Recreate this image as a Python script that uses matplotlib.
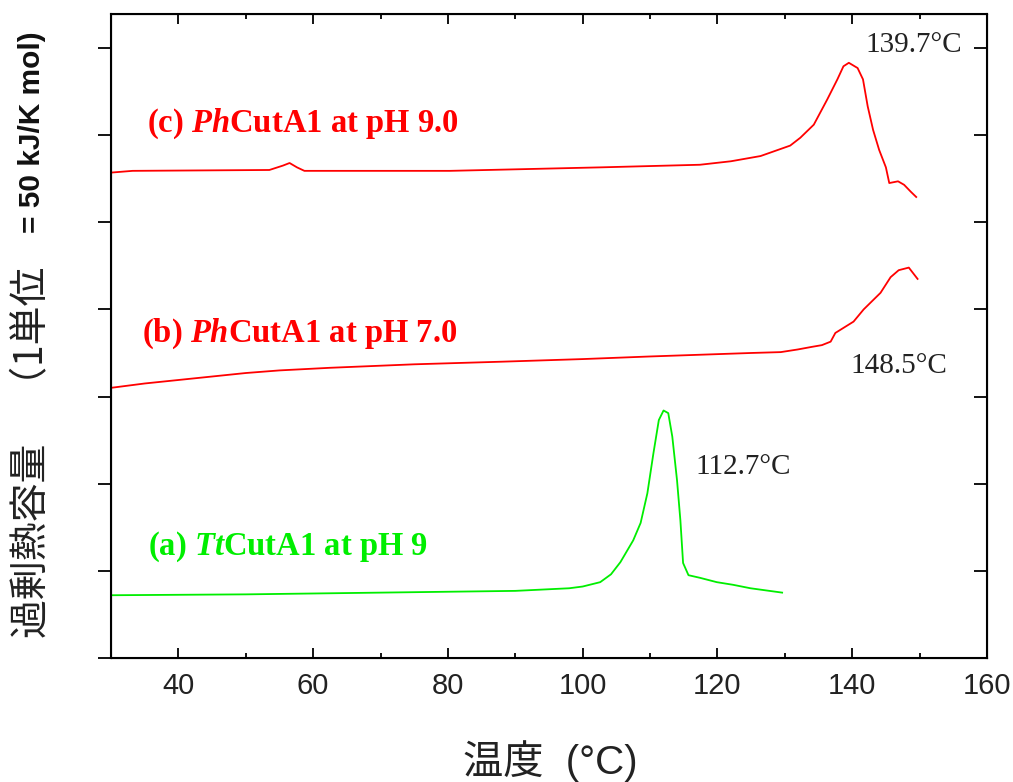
import matplotlib
matplotlib.use("Agg")
import matplotlib.pyplot as plt
from matplotlib.ticker import MultipleLocator

# (a) TtCutA1 pH 9 (green)
temp_a = [30, 50, 70, 90, 98, 100, 102.6, 104.2, 105.6, 107.5, 108.6, 109.6, 110.5, 111.3,
          112.0, 112.7, 113.3, 114.0, 114.5, 114.9, 115.7, 117.4, 119.9, 122.3, 124.9, 129.6]
cp_a = [0.72, 0.73, 0.75, 0.77, 0.80, 0.82, 0.87, 0.96, 1.10, 1.35, 1.55, 1.89, 2.35, 2.73,
        2.84, 2.81, 2.54, 2.04, 1.58, 1.09, 0.95, 0.92, 0.87, 0.84, 0.80, 0.75]

# (b) PhCutA1 pH 7.0 (red)
temp_b = [30, 35, 40, 45, 50, 55, 62.5, 75, 88, 100, 110, 117.5, 125, 129.4, 131.9, 134,
          135.5, 136.8, 137.5, 140.2, 141.7, 144.2, 145.7, 146.9, 148.4, 149.0, 149.7]
cp_b = [3.10, 3.15, 3.19, 3.23, 3.27, 3.30, 3.33, 3.37, 3.40, 3.43, 3.46, 3.48, 3.50, 3.51,
        3.54, 3.57, 3.59, 3.63, 3.73, 3.86, 4.00, 4.19, 4.37, 4.45, 4.48, 4.42, 4.35]

# (c) PhCutA1 pH 9.0 (red)
temp_c = [30, 33.2, 53.5, 55.5, 56.5, 57.6, 58.7, 80.3, 102.6, 117.4, 122, 126.4, 130.8,
          132.3, 134.3, 136.3, 137.8, 138.7, 139.5, 140.8, 141.6, 142.3, 143.1, 144.0,
          145.0, 145.5, 146.8, 147.7, 148.7, 149.5]
cp_c = [5.57, 5.59, 5.60, 5.65, 5.68, 5.63, 5.59, 5.59, 5.63, 5.66, 5.70, 5.76, 5.88,
        5.97, 6.12, 6.41, 6.64, 6.79, 6.83, 6.77, 6.64, 6.33, 6.06, 5.83, 5.63, 5.45,
        5.47, 5.43, 5.35, 5.29]

x_ticks = [40, 60, 80, 100, 120, 140, 160]
y_ticks = [0, 1, 2, 3, 4, 5, 6, 7]

plt.rcParams['mathtext.fontset'] = 'custom'
plt.rcParams['mathtext.rm'] = 'Liberation Serif:bold'
plt.rcParams['mathtext.it'] = 'Liberation Serif:italic:bold'

fig = plt.figure(figsize=(10.13, 7.82), dpi=100)
ax = fig.add_axes([0.1096, 0.1586, 0.8647, 0.8235])

ax.plot(temp_c, cp_c, color='#ff0000', lw=1.3)
ax.plot(temp_b, cp_b, color='#ff0000', lw=1.3)
ax.plot(temp_a, cp_a, color='#00ee00', lw=1.3)

ax.set_xlim(30, 160)
ax.set_ylim(0, 7.39)
ax.set_xticks(x_ticks)
ax.xaxis.set_minor_locator(MultipleLocator(10))
ax.set_yticks(y_ticks)
ax.set_yticklabels([])
ax.tick_params(axis='x', direction='in', top=True, length=7.5, width=1.3,
               labelsize=21, pad=10, labelcolor='#222222')
ax.tick_params(axis='x', which='minor', direction='in', top=True, length=3.5, width=1.3)
ax.tick_params(axis='y', direction='out', length=9.5, width=1.3)
for s in ax.spines.values():
    s.set_linewidth(1.5)
for lab in ax.get_xticklabels():
    lab.set_fontfamily('Liberation Sans')

# right-side inward ticks
ax2 = ax.twinx()
ax2.set_ylim(0, 7.39)
ax2.set_yticks(y_ticks)
ax2.set_yticklabels([])
ax2.tick_params(axis='y', direction='in', length=9.5, width=1.3)

lab_kw = dict(fontfamily='Liberation Serif', fontweight='bold', fontsize=23.5, va='baseline')
ax.text(35.3, 6.04, r'(c) $\mathit{Ph}$CutA1 at pH 9.0', color='#ff0000', **lab_kw)
ax.text(34.6, 3.63, r'(b) $\mathit{Ph}$CutA1 at pH 7.0', color='#ff0000', **lab_kw)
ax.text(35.5, 1.18, r'(a) $\mathit{Tt}$CutA1 at pH 9', color='#00ee00', **lab_kw)

ann_kw = dict(fontfamily='Liberation Serif', fontsize=21, va='baseline', color='#222222')
ax.text(142.0, 6.95, '139.7°C', **ann_kw)
ax.text(139.8, 3.27, '148.5°C', **ann_kw)
ax.text(116.8, 2.11, '112.7°C', **ann_kw)

fig.text(0.543, 0.0, '温度  (°C)', family=['Liberation Sans', 'Noto Sans CJK JP'],
         fontsize=29, ha='center', va='bottom', color='#222222')
fig.text(32 / 1013, (782 - 638) / 782, '過剰熱容量　（1単位', family=['Noto Sans CJK JP'],
         fontsize=28, rotation=90, ha='center', va='bottom', color='#222222')
fig.text(32 / 1013, (782 - 233) / 782, '= 50 kJ/K mol)', family=['Liberation Sans'],
         fontweight='bold', fontsize=21.5, rotation=90, ha='center', va='bottom', color='#111111')

fig.savefig('out.png', dpi=100)
